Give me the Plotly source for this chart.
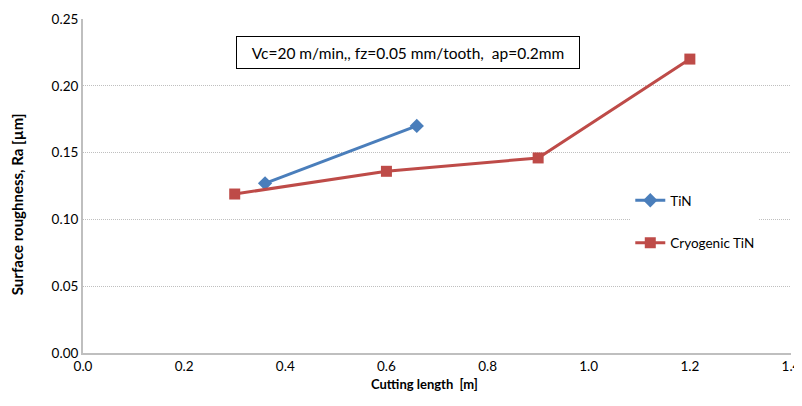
import plotly.graph_objects as go

tin_x = [0.36, 0.66]
tin_y = [0.127, 0.170]
cryo_x = [0.30, 0.60, 0.90, 1.20]
cryo_y = [0.119, 0.136, 0.146, 0.220]

x_ticks = [0.0, 0.2, 0.4, 0.6, 0.8, 1.0, 1.2, 1.4]
y_ticks = [0.00, 0.05, 0.10, 0.15, 0.20, 0.25]

FONT = "Lato"
BLUE = "#4A7EBB"
RED = "#BE4B48"

fig = go.Figure()
fig.add_trace(go.Scatter(
    x=tin_x, y=tin_y, mode="lines+markers", name="TiN", legendgroup="a",
    line=dict(color=BLUE, width=3),
    marker=dict(symbol="diamond", size=11, color=BLUE),
))
fig.add_trace(go.Scatter(
    x=cryo_x, y=cryo_y, mode="lines+markers", name="Cryogenic TiN", legendgroup="b",
    line=dict(color=RED, width=3),
    marker=dict(symbol="square", size=11, color=RED),
))

# page body adds an 8px margin; figure sized so the plot area lands where the reference has it
fig.update_layout(
    width=794, height=390,
    margin=dict(l=75, r=11, t=11, b=45),
    paper_bgcolor="white", plot_bgcolor="white",
    font=dict(family=FONT, size=13.5, color="#000000"),
    showlegend=True,
    legend=dict(
        x=0.773, y=0.503, xanchor="left", yanchor="top",
        bgcolor="white", font=dict(family=FONT, size=13.5),
        tracegroupgap=22, itemwidth=30,
    ),
    xaxis=dict(
        range=[0, 1.4], tickvals=x_ticks,
        ticktext=[f"{v:.1f}" for v in x_ticks],
        showgrid=False, showline=True, linecolor="#BFBFBF", linewidth=2,
        ticks="", zeroline=False, automargin=False, ticklabeloverflow="allow",
        tickfont=dict(family=FONT, size=13.5),
    ),
    yaxis=dict(
        range=[0, 0.25], tickvals=y_ticks,
        ticktext=[f"{v:.2f}" for v in y_ticks],
        showgrid=True, gridcolor="#BFBFBF", griddash="1px,1px", gridwidth=1,
        showline=True, linecolor="#BFBFBF", linewidth=2,
        ticks="", zeroline=False, automargin=False,
        tickfont=dict(family=FONT, size=13.5),
    ),
    annotations=[
        dict(
            xref="paper", yref="paper", x=0.459, y=0.901,
            xanchor="center", yanchor="middle",
            text="Vc=20 m/min,, fz=0.05 mm/tooth,  ap=0.2mm",
            showarrow=False, font=dict(family=FONT, size=15.5, color="#000000"),
            bordercolor="#000000", borderwidth=1, borderpad=4,
            width=334, height=23, bgcolor="white", align="center",
        ),
        dict(
            xref="paper", yref="paper", x=0.483, y=-0.093,
            xanchor="center", yanchor="middle",
            text="<b>Cutting length  [m]</b>", showarrow=False,
            font=dict(family=FONT, size=13, color="#000000"),
        ),
        dict(
            xref="paper", yref="paper", x=-0.092, y=0.445,
            xanchor="center", yanchor="middle", textangle=-90,
            text="<b>Surface roughness, Ra [µm]</b>", showarrow=False,
            font=dict(family=FONT, size=15, color="#000000"),
        ),
    ],
)

fig.write_html("out.html")
